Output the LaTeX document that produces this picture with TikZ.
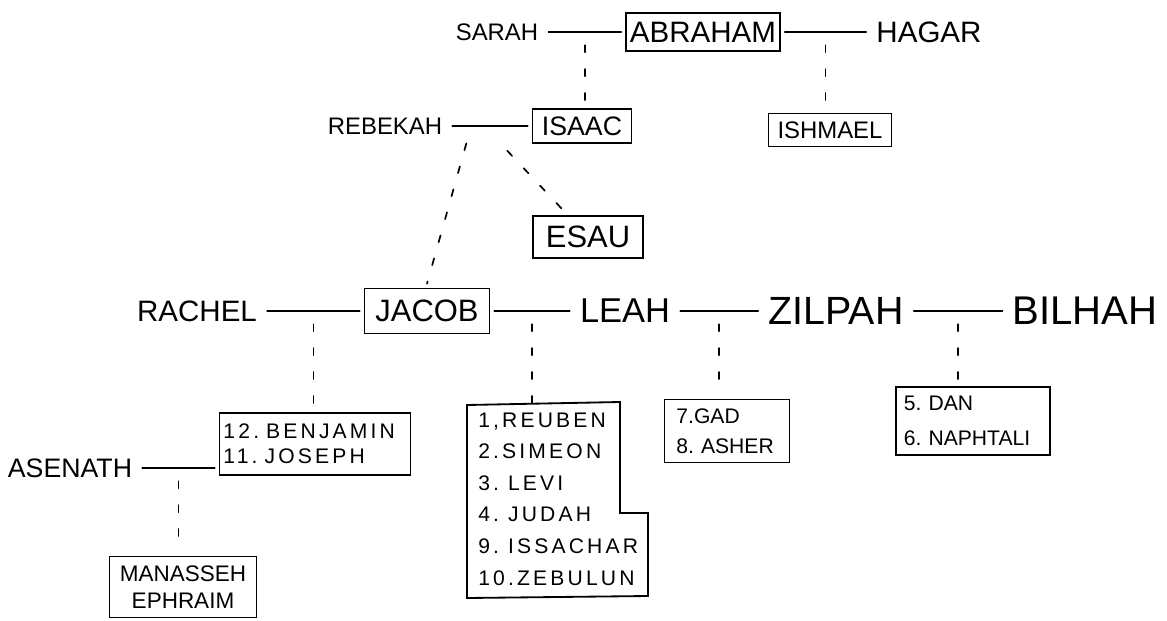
\documentclass[tikz,border=0pt]{standalone}
\usepackage{fontspec}
\setmainfont{Liberation Sans}
\newfontfamily\hand{Liberation Sans}
\newfontfamily\listfont[LetterSpace=15]{Liberation Sans}
\usetikzlibrary{calc}
\frenchspacing

\begin{document}
\begin{tikzpicture}[
    x=0.025cm, y=-0.025cm,
    who/.style={font=\hand\fontsize{#1}{#1}\selectfont, inner xsep=0.25cm, inner ysep=0pt},
    person/.style={draw, line width=1.3pt, font=\hand\fontsize{#1}{#1}\selectfont, inner sep=0pt, outer sep=0.12cm},
    brood/.style={draw, line width=1.3pt, font=\listfont\fontsize{15}{#1}\selectfont, align=left, inner ysep=0pt, outer sep=0.12cm},
    link/.style={line width=1.3pt, line cap=round},
    kin/.style={line width=1.2pt, line cap=round, dash pattern=on 5pt off 12pt, shorten <=0.33cm}
]
\useasboundingbox (0,0) rectangle (1167,620);

\node[person=21, minimum width=3.85cm, minimum height=0.95cm] (abraham) at (703,32) {ABRAHAM};
\node[who=17] (sarah) at (497,32) {SARAH};
\node[who=21] (hagar) at (929,32) {HAGAR};
\node[person=19, minimum width=2.475cm, minimum height=0.85cm] (isaac) at (582,126) {ISAAC};
\node[who=17] (rebekah) at (385,126) {REBEKAH};
\node[person=17, minimum width=3.075cm, minimum height=0.825cm] (ishmael) at (830,130) {ISHMAEL};
\node[person=22, minimum width=2.75cm, minimum height=1.05cm] (esau) at (588,237) {ESAU};
\node[person=22, minimum width=3.125cm, minimum height=1.125cm] (jacob) at (427,311) {JACOB};
\node[who=21] (rachel) at (197,311) {RACHEL};
\node[who=24.5] (leah) at (625,311) {LEAH};
\node[who=28] (zilpah) at (836,311) {ZILPAH};
\node[who=28.5] (bilhah) at (1085,311) {BILHAH};

\node[brood=17.8, minimum width=4.775cm, minimum height=1.55cm, text width=4.575cm, inner xsep=0.1cm] (rachelkids) at (315,444) {12. BENJAMIN\\11. JOSEPH};
\node[who=19] (asenath) at (70,468) {ASENATH};
\node[brood=19.2, align=center, minimum width=3.675cm, minimum height=1.525cm, text width=3.475cm, inner xsep=0.1cm, font=\hand\fontsize{16}{19.2}\selectfont] (manasseh) at (183,587) {MANASSEH\\EPHRAIM};
\node[anchor=west, inner sep=0pt, align=left, font=\listfont\fontsize{15}{22.5}\selectfont] (leahkids) at (478,499) {1,REUBEN\\2.SIMEON\\3. LEVI\\4. JUDAH\\9. ISSACHAR\\10.ZEBULUN};
\coordinate (leahtop) at (530,403);
\node[brood=21.3, minimum width=3.125cm, minimum height=1.575cm, text width=2.525cm, inner xsep=0.3cm, font=\hand\fontsize{15}{21.3}\selectfont] (zilpahkids) at (727,431) {7.GAD\\8. ASHER};
\node[brood=25, minimum width=3.85cm, minimum height=1.7cm, text width=3.45cm, inner xsep=0.2cm, font=\hand\fontsize{15}{25}\selectfont] (bilhahkids) at (973,421) {5. DAN\\6. NAPHTALI};

\draw[line width=1.3pt] (467,405) -- (620,402) -- (620,513) -- (648,513) -- (648,596) -- (467,598) -- cycle;

\draw[link] (sarah) -- (abraham);
\draw[link] (abraham) -- (hagar);
\draw[link] (rebekah) -- (isaac);
\draw[link] (rachel) -- (jacob);
\draw[link] (jacob) -- (leah);
\draw[link] (leah) -- (zilpah);
\draw[link] (zilpah) -- (bilhah);
\draw[link] (asenath) -- (asenath -| rachelkids.west);

\coordinate (sa) at ($(sarah.east)!.5!(abraham.west)$);
\coordinate (ah) at ($(abraham.east)!.5!(hagar.west)$);
\coordinate (rj) at ($(rebekah.east)!.25!(isaac.west)$);
\coordinate (re) at ($(rebekah.east)!.42!(isaac.west)$);
\coordinate (rjk) at ($(rachel.east)!.5!(jacob.west)$);
\coordinate (jl) at ($(jacob.east)!.5!(leah.west)$);
\coordinate (lz) at ($(leah.east)!.5!(zilpah.west)$);
\coordinate (zb) at ($(zilpah.east)!.5!(bilhah.west)$);
\coordinate (aj) at ($(asenath.east)!.5!(rachelkids.west |- asenath)$);

\draw[kin] (sa) -- (sa |- isaac.north);
\draw[kin] (ah) -- (ah |- ishmael.north);
\draw[kin, shorten <=0.45cm] (rj) -- (jacob.north);
\draw[kin, shorten <=0.85cm] (re) -- ($(esau.north west)!.3!(esau.north east)$);
\draw[kin] (rjk) -- (rjk |- rachelkids.north);
\draw[kin] (jl) -- (jl |- leahtop);
\draw[kin] (lz) -- (lz |- zilpahkids.north);
\draw[kin] (zb) -- (zb |- bilhahkids.north);
\draw[kin] (aj) -- (aj |- manasseh.north);

\end{tikzpicture}
\end{document}
